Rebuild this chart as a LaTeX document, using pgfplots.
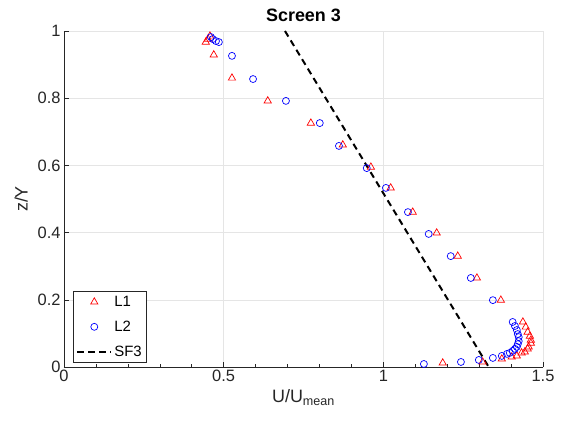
\documentclass[border=0pt]{standalone}
\usepackage{pgfplots}
\pgfplotsset{compat=1.18}
\usepackage{fontspec}
\setmainfont{Liberation Sans}
\definecolor{mgray}{rgb}{0.15,0.15,0.15}
\definecolor{gridc}{rgb}{0.9,0.9,0.9}
\pgfplotsset{
  marklegend/.style={legend image code/.code={\draw[mark repeat=2,mark phase=2,##1] plot coordinates {(0bp,0bp) (17bp,0bp) (34bp,0bp)};}},
  linelegend/.style={legend image code/.code={\draw[##1] (0bp,0bp) -- (34bp,0bp);}},
}
\begin{document}
\begin{tikzpicture}
\begin{axis}[
  scale only axis,
  width=479bp, height=336bp,
  at={(0,0)}, anchor=south west,
  xmin=0, xmax=1.5, ymin=0, ymax=1,
  xtick={0,0.5,1,1.5}, ytick={0,0.2,0.4,0.6,0.8,1},
  minor x tick num=4,
  axis lines*=left,
  axis line style={mgray, line width=0.6bp},
  tick align=inside,
  major tick length=5bp, minor tick length=3bp,
  tick style={mgray, line width=0.6bp},
  grid=major,
  major grid style={gridc, line width=0.6bp},
  ticklabel style={font=\fontsize{16.5}{18}\selectfont, text=mgray},
  /pgf/number format/assume math mode=true,
  title={\textbf{Screen 3}},
  title style={font=\fontsize{18}{20}\selectfont, yshift=0bp},
  xlabel={U/U\textsubscript{mean}},
  ylabel={z/Y},
  label style={font=\fontsize{18}{20}\selectfont, text=mgray},
  xlabel style={yshift=-1bp},
  ylabel style={yshift=3bp},
  legend style={at={(rel axis cs:0,0)}, anchor=south west, xshift=9bp, yshift=4bp,
    draw=mgray, line width=0.6bp, fill=white, font=\fontsize{15}{17}\selectfont,
    row sep=9bp, inner sep=3bp},
  legend cell align=left,
]
\addplot[only marks, red, mark=triangle, mark size=4.2bp, mark options={line width=0.7bp}, marklegend]
coordinates {
(0.444,0.967) (0.451,0.976) (0.457,0.985) (0.469,0.929) (0.526,0.860)
(0.638,0.792) (0.773,0.726) (0.873,0.661) (0.961,0.595) (1.023,0.533)
(1.092,0.461) (1.167,0.399) (1.233,0.330) (1.293,0.265) (1.368,0.199)
(1.437,0.134) (1.446,0.119) (1.452,0.104) (1.459,0.092) (1.462,0.080)
(1.462,0.071) (1.455,0.060) (1.452,0.054) (1.443,0.045) (1.433,0.042)
(1.418,0.033) (1.402,0.030) (1.371,0.024) (1.311,0.015) (1.186,0.012)
};
\addlegendentry{L1}
\addplot[only marks, blue, mark=o, mark size=3.5bp, mark options={line width=0.7bp}, marklegend]
coordinates {
(0.460,0.982) (0.466,0.976) (0.476,0.970) (0.485,0.967) (0.526,0.926)
(0.592,0.857) (0.695,0.792) (0.801,0.726) (0.861,0.658) (0.948,0.592)
(1.008,0.533) (1.077,0.461) (1.142,0.396) (1.211,0.330) (1.274,0.265)
(1.343,0.199) (1.405,0.134) (1.412,0.122) (1.418,0.110) (1.421,0.098)
(1.424,0.089) (1.424,0.077) (1.421,0.068) (1.418,0.060) (1.412,0.054)
(1.405,0.048) (1.396,0.042) (1.387,0.039) (1.371,0.033) (1.343,0.027)
(1.299,0.021) (1.243,0.015) (1.127,0.009)
};
\addlegendentry{L2}
\addplot[black, line width=2bp, dash pattern=on 6.5bp off 4.5bp, linelegend]
coordinates {(0.692,1) (1.330,0)};
\addlegendentry{SF3}
\end{axis}
\pgfresetboundingbox
\path[use as bounding box] (-64bp,-58bp) rectangle (502bp,367bp);
\end{tikzpicture}
\end{document}
